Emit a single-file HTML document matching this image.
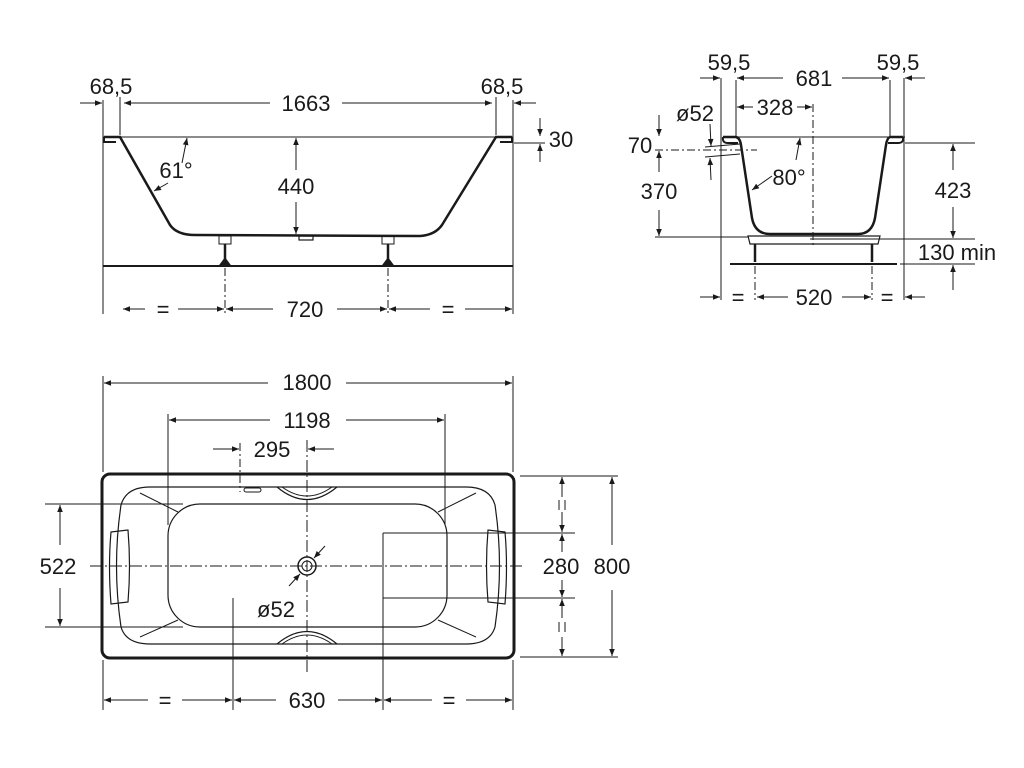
<!DOCTYPE html>
<html><head><meta charset="utf-8"><style>
html,body{margin:0;padding:0;background:#fff;}
svg{display:block;}
text{font-family:"Liberation Sans",sans-serif;font-size:22px;fill:#1a1a1a;text-anchor:middle;}
</style></head><body>
<svg width="1024" height="768" viewBox="0 0 1024 768" xmlns="http://www.w3.org/2000/svg">
<defs>
<marker id="a" viewBox="0 0 10 10" refX="10" refY="5" markerWidth="10" markerHeight="7" orient="auto-start-reverse" markerUnits="userSpaceOnUse"><path d="M0,1 L10,5 L0,9 z" fill="#1a1a1a"/></marker>
</defs>
<g stroke="#1a1a1a" stroke-width="1" fill="none">
<line x1="103" y1="100" x2="103" y2="314"/><line x1="513" y1="100" x2="513" y2="314"/>
<line x1="120" y1="97" x2="120" y2="135"/><line x1="496" y1="97" x2="496" y2="135"/>
<line x1="80" y1="103" x2="102" y2="103" marker-end="url(#a)"/>
<line x1="536" y1="103" x2="514" y2="103" marker-end="url(#a)"/>
<line x1="124" y1="103" x2="270" y2="103" marker-start="url(#a)"/>
<line x1="342" y1="103" x2="492" y2="103" marker-end="url(#a)"/>
<line x1="103" y1="137" x2="513" y2="137"/>
<path d="M104,137 L120,137 L170,225 Q177,235 195,235 L420,236 Q435,235 442,225 L496,137 L512,137" stroke-width="2.5"/>
<path d="M104,137 L104,142 L116,142" stroke-width="2"/><path d="M512,137 L512,142 L500,142" stroke-width="2"/>
<rect x="299" y="236" width="14" height="4" stroke-width="1.2"/>
<line x1="103" y1="266" x2="513" y2="266" stroke-width="2"/>
<rect x="219" y="236" width="12" height="8"/><rect x="382" y="236" width="12" height="8"/>
<line x1="225" y1="244" x2="225" y2="264" stroke-width="2.5"/><line x1="388" y1="244" x2="388" y2="264" stroke-width="2.5"/>
<path d="M219,266 L225,258 L231,266" fill="#1a1a1a"/><path d="M382,266 L388,258 L394,266" fill="#1a1a1a"/>
<line x1="225" y1="268" x2="225" y2="314" stroke-dasharray="8,3,2,3"/>
<line x1="388" y1="268" x2="388" y2="314" stroke-dasharray="8,3,2,3"/>
<line x1="296" y1="170" x2="296" y2="138" marker-end="url(#a)"/>
<line x1="296" y1="202" x2="296" y2="234" marker-end="url(#a)"/>
<line x1="182" y1="163" x2="187" y2="138" marker-end="url(#a)"/>
<line x1="168" y1="183" x2="154" y2="191" marker-end="url(#a)"/>
<line x1="514" y1="143" x2="545" y2="143"/>
<line x1="540" y1="118" x2="540" y2="136" marker-end="url(#a)"/>
<line x1="540" y1="162" x2="540" y2="144" marker-end="url(#a)"/>
<line x1="123" y1="309" x2="145" y2="309" marker-start="url(#a)"/><line x1="178" y1="309" x2="224" y2="309" marker-end="url(#a)"/>
<line x1="226" y1="309" x2="273" y2="309" marker-start="url(#a)"/><line x1="337" y1="309" x2="387" y2="309" marker-end="url(#a)"/>
<line x1="389" y1="309" x2="430" y2="309" marker-start="url(#a)"/><line x1="465" y1="309" x2="512" y2="309" marker-end="url(#a)"/>
<line x1="721" y1="78" x2="721" y2="300"/><line x1="904" y1="78" x2="904" y2="300"/>
<line x1="736" y1="80" x2="736" y2="136"/><line x1="890" y1="80" x2="890" y2="136"/>
<line x1="700" y1="78" x2="720" y2="78" marker-end="url(#a)"/>
<line x1="925" y1="78" x2="905" y2="78" marker-end="url(#a)"/>
<line x1="737" y1="78" x2="783" y2="78" marker-start="url(#a)"/>
<line x1="842" y1="78" x2="889" y2="78" marker-end="url(#a)"/>
<line x1="737" y1="107" x2="753" y2="107" marker-start="url(#a)"/>
<line x1="797" y1="107" x2="812" y2="107" marker-end="url(#a)"/>
<line x1="813" y1="104" x2="813" y2="245" stroke-dasharray="8,3,2,3"/>
<line x1="723" y1="137" x2="905" y2="137"/>
<path d="M723,137 Q722,143 728,143 L738,143" stroke-width="2"/>
<path d="M903,137 Q904,143 898,143 L888,143" stroke-width="2"/>
<path d="M723,137 L736,137 Q740,138 741,145 L752,218 Q755,234 770,234 L858,234 Q872,234 875,218 L886,145 Q887,138 890,137 L903,137" stroke-width="2.5"/>
<line x1="905" y1="143" x2="975" y2="143"/>
<line x1="655" y1="237" x2="748" y2="237"/><line x1="810" y1="239" x2="975" y2="239"/>
<path d="M748,236 L880,236 L878,244 L750,244 z" stroke-width="1.2"/>
<line x1="755" y1="244" x2="755" y2="262" stroke-width="2.5"/><line x1="872" y1="244" x2="872" y2="262" stroke-width="2.5"/>
<line x1="730" y1="264" x2="897" y2="264" stroke-width="2"/>
<line x1="900" y1="264" x2="975" y2="264"/>
<line x1="755" y1="266" x2="755" y2="300" stroke-dasharray="8,3,2,3"/>
<line x1="872" y1="266" x2="872" y2="300" stroke-dasharray="8,3,2,3"/>
<line x1="655" y1="150" x2="757" y2="150" stroke-dasharray="8,3,2,3"/>
<line x1="705" y1="147" x2="740" y2="144"/><line x1="705" y1="157" x2="740" y2="154"/>
<line x1="710" y1="124" x2="711" y2="146" marker-end="url(#a)"/>
<line x1="711" y1="180" x2="710" y2="158" marker-end="url(#a)"/>
<line x1="659" y1="115" x2="659" y2="136" marker-end="url(#a)"/>
<line x1="659" y1="172" x2="659" y2="151" marker-end="url(#a)"/>
<line x1="659" y1="210" x2="659" y2="236" marker-end="url(#a)"/>
<line x1="796" y1="160" x2="800" y2="138" marker-end="url(#a)"/>
<line x1="772" y1="176" x2="752" y2="190" marker-end="url(#a)"/>
<line x1="953" y1="170" x2="953" y2="144" marker-end="url(#a)"/>
<line x1="953" y1="207" x2="953" y2="238" marker-end="url(#a)"/>
<line x1="953" y1="290" x2="953" y2="265" marker-end="url(#a)"/>
<line x1="700" y1="297" x2="720" y2="297" marker-end="url(#a)"/>
<line x1="925" y1="297" x2="905" y2="297" marker-end="url(#a)"/>
<line x1="757" y1="297" x2="788" y2="297" marker-start="url(#a)"/>
<line x1="842" y1="297" x2="871" y2="297" marker-end="url(#a)"/>
<line x1="103" y1="376" x2="103" y2="472"/><line x1="513" y1="376" x2="513" y2="472"/>
<line x1="104" y1="383" x2="268" y2="383" marker-start="url(#a)"/>
<line x1="346" y1="383" x2="512" y2="383" marker-end="url(#a)"/>
<line x1="168" y1="414" x2="168" y2="525"/><line x1="445" y1="414" x2="445" y2="525"/>
<line x1="169" y1="420" x2="270" y2="420" marker-start="url(#a)"/>
<line x1="346" y1="420" x2="444" y2="420" marker-end="url(#a)"/>
<line x1="240" y1="443" x2="240" y2="492" stroke-dasharray="8,3,2,3"/>
<line x1="213" y1="449" x2="239" y2="449" marker-end="url(#a)"/>
<line x1="334" y1="449" x2="308" y2="449" marker-end="url(#a)"/>
<rect x="102" y="474" width="412" height="184" rx="8" stroke-width="3"/>
<path d="M150,487 L466,487 Q490,487 495,505 Q504,566 495,627 Q490,644 466,644 L150,644 Q126,644 121,627 Q112,566 121,505 Q126,487 150,487 z" stroke-width="1.2"/>
<rect x="168" y="504" width="279" height="123" rx="32" stroke-width="1.2"/>
<path d="M111,532 L128,530 Q131,566 128,602 L111,604 Q108,566 111,532 z" stroke-width="1.2"/>
<path d="M505,532 L488,530 Q485,566 488,602 L505,604 Q508,566 505,532 z" stroke-width="1.2"/>
<line x1="140" y1="493" x2="178" y2="512"/><line x1="140" y1="637" x2="178" y2="620"/>
<line x1="476" y1="493" x2="438" y2="512"/><line x1="476" y1="637" x2="438" y2="620"/>
<path d="M277,487 Q307,512 337,487" stroke-width="1.2"/><path d="M282,487 Q307,505 332,487" stroke-width="1"/>
<path d="M277,644 Q307,619 337,644" stroke-width="1.2"/><path d="M282,644 Q307,626 332,644" stroke-width="1"/>
<rect x="244" y="488" width="17" height="4" rx="2"/>
<circle cx="307" cy="566" r="9" stroke-width="1.5"/><circle cx="307" cy="566" r="5"/>
<line x1="90" y1="566" x2="525" y2="566" stroke-dasharray="12,3,2,3"/>
<line x1="307" y1="440" x2="307" y2="672" stroke-dasharray="12,3,2,3"/>
<line x1="325" y1="546" x2="314" y2="558" marker-end="url(#a)"/>
<line x1="289" y1="586" x2="300" y2="574" marker-end="url(#a)"/>
<line x1="45" y1="504" x2="183" y2="504"/><line x1="45" y1="627" x2="183" y2="627"/>
<line x1="60" y1="545" x2="60" y2="505" marker-end="url(#a)"/>
<line x1="60" y1="588" x2="60" y2="626" marker-end="url(#a)"/>
<line x1="520" y1="476" x2="618" y2="476"/><line x1="520" y1="657" x2="618" y2="657"/>
<line x1="383" y1="533" x2="575" y2="533"/><line x1="383" y1="598" x2="575" y2="598"/>
<line x1="612" y1="545" x2="612" y2="477" marker-end="url(#a)"/>
<line x1="612" y1="590" x2="612" y2="656" marker-end="url(#a)"/>
<line x1="562" y1="497" x2="562" y2="477" marker-end="url(#a)"/>
<line x1="562" y1="512" x2="562" y2="532" marker-end="url(#a)"/>
<line x1="562" y1="552" x2="562" y2="534" marker-end="url(#a)"/>
<line x1="562" y1="580" x2="562" y2="597" marker-end="url(#a)"/>
<line x1="562" y1="618" x2="562" y2="599" marker-end="url(#a)"/>
<line x1="562" y1="637" x2="562" y2="656" marker-end="url(#a)"/>
<line x1="559" y1="500" x2="559" y2="510"/><line x1="565" y1="500" x2="565" y2="510"/>
<line x1="559" y1="622" x2="559" y2="632"/><line x1="565" y1="622" x2="565" y2="632"/>
<line x1="103" y1="660" x2="103" y2="710"/><line x1="513" y1="660" x2="513" y2="710"/>
<line x1="233" y1="598" x2="233" y2="710"/><line x1="383" y1="533" x2="383" y2="710"/>
<line x1="104" y1="700" x2="148" y2="700" marker-start="url(#a)"/><line x1="182" y1="700" x2="232" y2="700" marker-end="url(#a)"/>
<line x1="234" y1="700" x2="276" y2="700" marker-start="url(#a)"/><line x1="338" y1="700" x2="382" y2="700" marker-end="url(#a)"/>
<line x1="384" y1="700" x2="432" y2="700" marker-start="url(#a)"/><line x1="466" y1="700" x2="512" y2="700" marker-end="url(#a)"/>
</g>
<g>
<text x="111" y="94">68,5</text><text x="502" y="94">68,5</text><text x="306" y="111">1663</text>
<text x="176" y="178">61°</text><text x="296" y="194">440</text><text x="561" y="147">30</text>
<text x="163" y="317">=</text><text x="305" y="317">720</text><text x="448" y="317">=</text>
<text x="729" y="70">59,5</text><text x="814" y="86">681</text><text x="898" y="70">59,5</text>
<text x="775" y="115">328</text><text x="695" y="121">ø52</text><text x="640" y="153">70</text>
<text x="659" y="199">370</text><text x="789" y="185">80°</text><text x="953" y="198">423</text>
<text x="957" y="260">130 min</text>
<text x="738" y="305">=</text><text x="814" y="305">520</text><text x="887" y="305">=</text>
<text x="307" y="390">1800</text><text x="307" y="428">1198</text><text x="272" y="457">295</text>
<text x="58" y="574">522</text><text x="561" y="574">280</text><text x="612" y="574">800</text>
<text x="276" y="617">ø52</text>
<text x="165" y="708">=</text><text x="307" y="708">630</text><text x="449" y="708">=</text>
</g>
</svg>
</body></html>
